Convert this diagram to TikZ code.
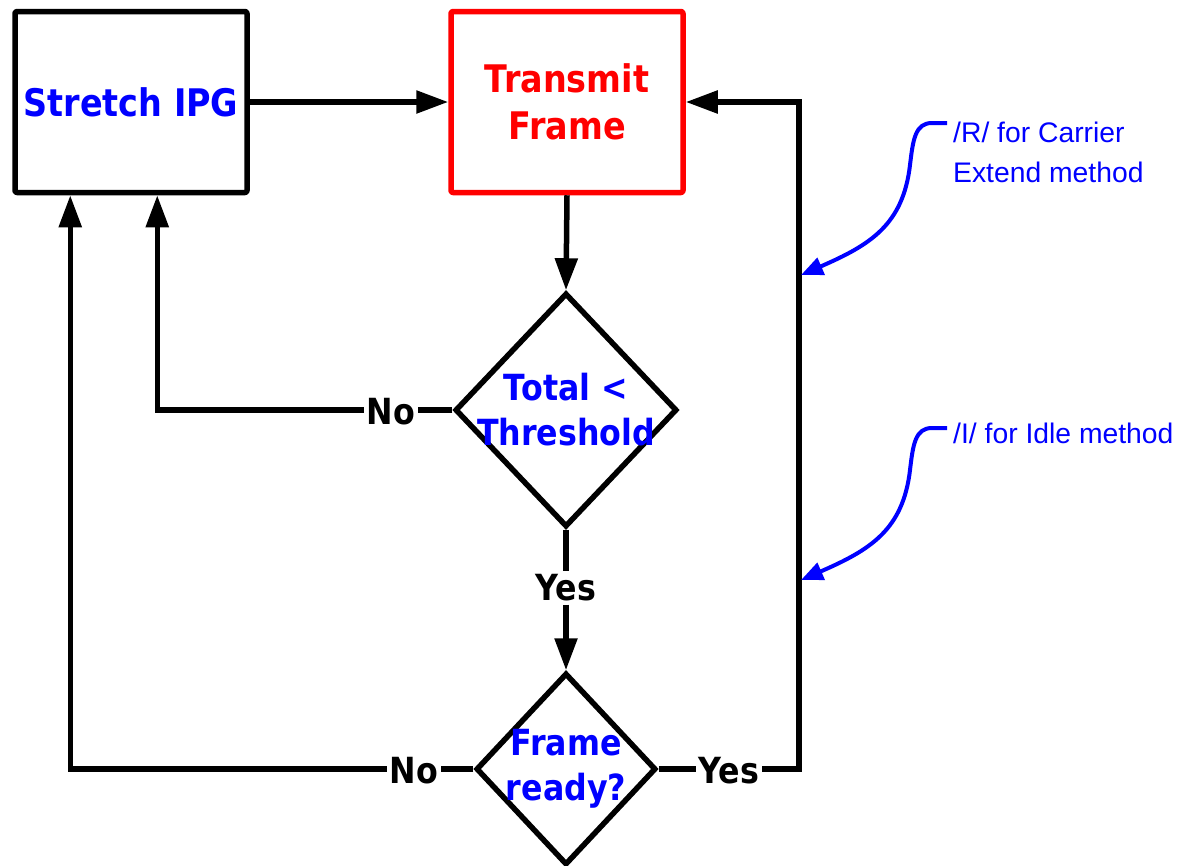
\documentclass[tikz,border=0pt]{standalone}
\usepackage{fontspec}
\usetikzlibrary{shapes.geometric,arrows.meta}
\newfontfamily\tah[FakeStretch=0.88]{DejaVu Sans}
\newfontfamily\ari{Liberation Sans}
\definecolor{pblue}{RGB}{0,0,255}
\definecolor{pred}{RGB}{255,0,0}
\tikzset{
  boxnode/.style={draw, line width=5.5pt, line join=round, rounded corners=2pt, minimum width=232pt, minimum height=181pt, inner sep=0pt, font=\tah\bfseries\fontsize{38}{47}\selectfont, align=center},
  dec/.style={draw, diamond, line width=5.5pt, inner sep=0pt, line join=miter},
  dectext/.style={text=pblue, font=\tah\bfseries\fontsize{36}{45}\selectfont, align=center},
  lbl/.style={font=\tah\bfseries\fontsize{36}{40}\selectfont, inner sep=3pt},
  conn/.style={line width=5.5pt, line join=miter},
  arr/.style={conn, -{Triangle[length=32pt,width=22pt]}},
  ann/.style={font=\ari\fontsize{28.3}{40}\selectfont, text=pblue, align=left, inner sep=0pt},
  annarr/.style={pblue, line width=4pt, -{Triangle[length=22pt,width=18pt]}},
}
\begin{document}
\begin{tikzpicture}[x=1pt,y=-1pt]
\useasboundingbox (0,0) rectangle (1182,865);
% boxes
\node[boxnode, text=pblue] (ipg) at (131,102) {Stretch IPG};
\node[boxnode, draw=pred, text=pred] (tx) at (567,102) {Transmit\\Frame};
% decisions
\node[dec, minimum width=222pt, minimum height=234pt] (d1) at (566,410) {};
\node[dectext] (t1) at (566,410) {Total <\\Threshold};
\node[dec, minimum width=180pt, minimum height=192pt] (d2) at (566,769) {};
\node[dectext] (t2) at (566,769) {Frame\\ready?};
% labels
\node[lbl] (no1) at (391,412) {No};
\node[lbl] (yes1) at (566,588) {Yes};
\node[lbl] (no2) at (414,771) {No};
\node[lbl] (yes2) at (729,771) {Yes};
% connectors
\draw[arr] (ipg.east) -- (tx.west);
\draw[arr] (tx.south) -- (d1.north);
\draw[conn] (d1.west) -- (d1.west -| no1.east);
\draw[arr] (no1.west |- d1.west) -| ([xshift=145pt]ipg.south west);
\draw[conn] (d1.south) -- (yes1.north);
\draw[arr] (yes1.south) -- (d2.north);
\draw[conn] (d2.west) -- (d2.west -| no2.east);
\draw[arr] (no2.west |- d2.west) -| ([xshift=58pt]ipg.south west);
\draw[conn] (d2.east) -- (d2.east -| yes2.west);
\coordinate (rtop) at (799,102);
\draw[arr] (yes2.east |- d2.east) -| (rtop) -- (tx.east);
% annotations
\node[ann, anchor=west] (a1) at (953,152) {/R/ for Carrier\\Extend method};
\node[ann, anchor=west] (a2) at (953,433) {/I/ for Idle method};
\coordinate (p1) at (801,275);
\coordinate (p2) at (801,580);
\draw[annarr] (947,123) -- (932,123) .. controls (915,123) and (913,140) .. (910,165) .. controls (903,225) and (870,245) .. (p1);
\draw[annarr] (947,428) -- (932,428) .. controls (915,428) and (913,445) .. (910,470) .. controls (903,530) and (870,550) .. (p2);
\end{tikzpicture}
\end{document}
